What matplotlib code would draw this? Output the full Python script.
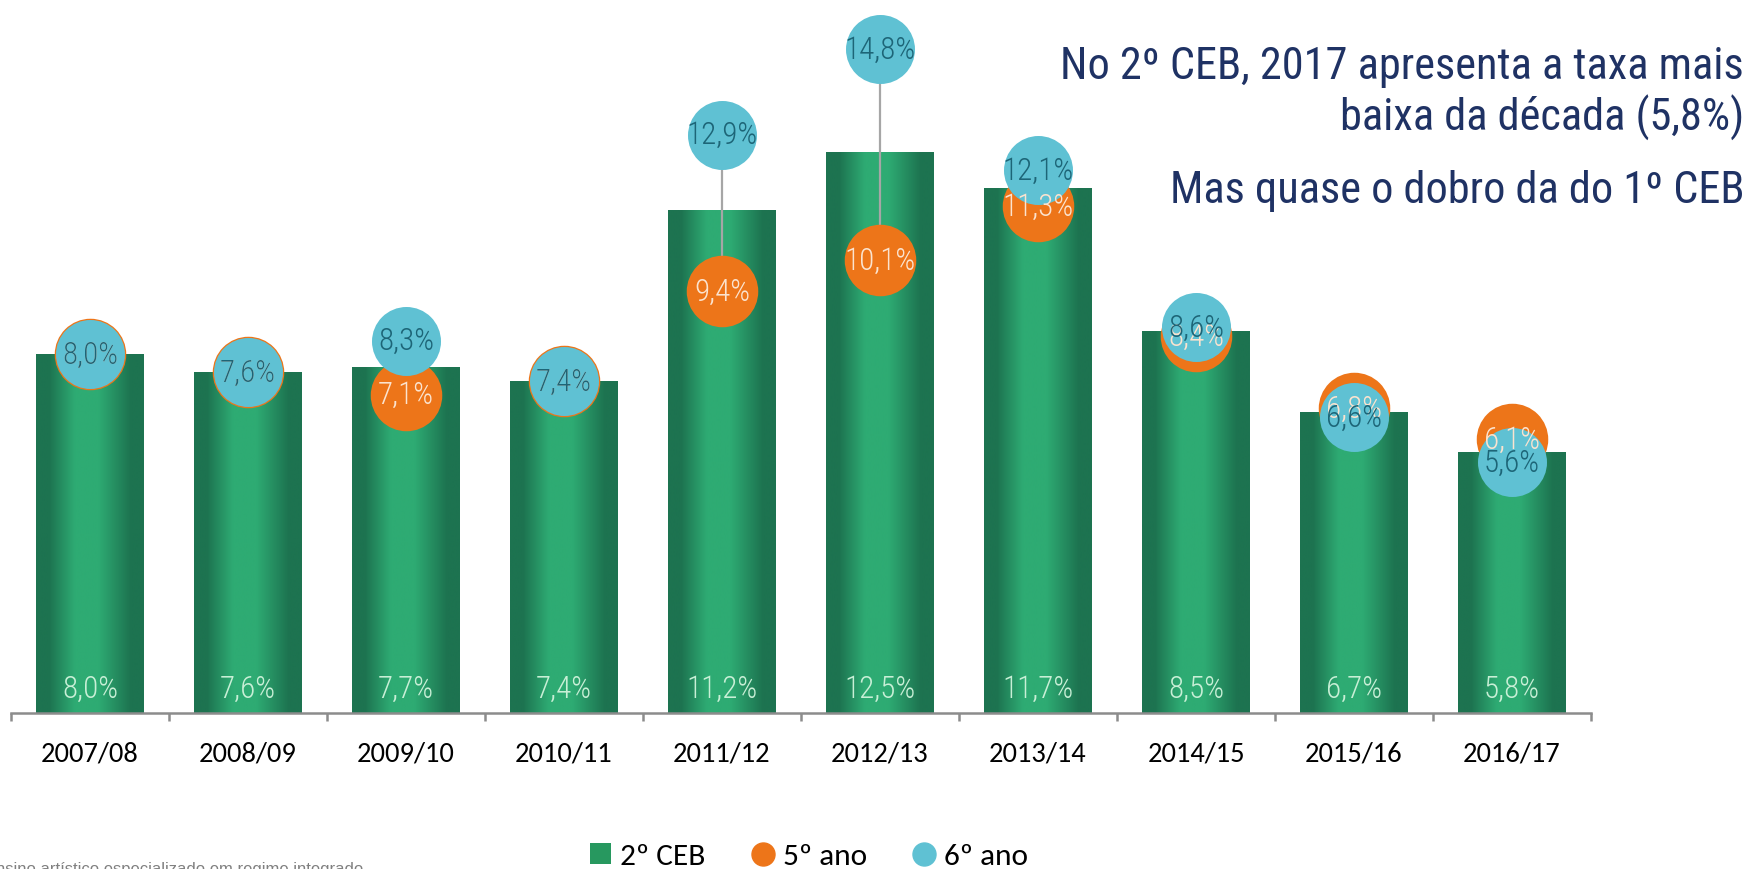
"""Taxa de retenção no 2º CEB, por ano lectivo (2º CEB, 5º ano, 6º ano)."""

import matplotlib.font_manager as fm
import matplotlib.pyplot as plt
import numpy as np
from matplotlib.colors import LinearSegmentedColormap
from matplotlib.lines import Line2D
from matplotlib.patches import Patch

CATEGORIES = ["2007/08", "2008/09", "2009/10", "2010/11", "2011/12",
              "2012/13", "2013/14", "2014/15", "2015/16", "2016/17"]
CEB2 = [8.0, 7.6, 7.7, 7.4, 11.2, 12.5, 11.7, 8.5, 6.7, 5.8]
ANO5 = [8.0, 7.6, 7.1, 7.4, 9.4, 10.1, 11.3, 8.4, 6.8, 6.1]
ANO6 = [8.0, 7.6, 8.3, 7.4, 12.9, 14.8, 12.1, 8.6, 6.6, 5.6]
SERIES_NAMES = ["2º CEB", "5º ano", "6º ano"]

TITLE_LINES = [
    "No 2º CEB, 2017 apresenta a taxa mais",
    "baixa da década (5,8%)",
    "Mas quase o dobro da do 1º CEB",
]
FOOTNOTE = "Inclui ensino artístico especializado em regime integrado"

FIG_W, FIG_H, DPI = 1747, 870, 100

GREEN_DARK = "#1d7350"
GREEN_LIGHT = "#2eab73"
ORANGE = "#ed7519"
BLUE = "#5fc1d3"
NAVY = "#1f3264"
AXIS_GRAY = "#8c8c8c"

AVAILABLE = {f.name for f in fm.fontManager.ttflist}


def pick(*names: str) -> str:
    for name in names:
        if name in AVAILABLE:
            return name
    return "DejaVu Sans"


COND = pick("Roboto Condensed", "Open Sans Condensed", "Fira Sans Condensed",
            "Barlow Semi Condensed", "Sofia Sans Semi Condensed",
            "Asap Condensed", "Liberation Sans Narrow")
BODY = pick("Carlito", "Lato", "Open Sans", "Liberation Sans")


def pct(v: float) -> str:
    return f"{v:.1f}".replace(".", ",") + "%"


def px(v: float) -> float:
    # pixels -> points
    return v * 72.0 / DPI


fig = plt.figure(figsize=(FIG_W / DPI, FIG_H / DPI), dpi=DPI)
renderer = fig.canvas.get_renderer()


def fit_size(text: str, family: str, width_px: float, weight="normal") -> float:
    """Font size that makes `text` about `width_px` pixels wide."""
    t = fig.text(0, 0, text, fontsize=10, family=family, weight=weight)
    w = t.get_window_extent(renderer=renderer).width
    t.remove()
    return 10.0 * width_px / w


LABEL_SIZE = fit_size("8,0%", COND, 56)
TITLE_SIZE = fit_size(TITLE_LINES[0], COND, 679)
TICK_SIZE = fit_size("2007/08", BODY, 98)
LEGEND_SIZE = fit_size("2º CEB", BODY, 85)

ax = fig.add_axes([11 / FIG_W, (FIG_H - 714) / FIG_H, 1580 / FIG_W, 713 / FIG_H])

x = np.arange(len(CATEGORIES))

# bars with a horizontal "cylinder" gradient
bars = ax.bar(x, CEB2, width=0.68, color="none", zorder=2)
cmap = LinearSegmentedColormap.from_list(
    "bar",
    [(0.0, GREEN_DARK), (0.12, GREEN_DARK), (0.36, GREEN_LIGHT),
     (0.58, GREEN_LIGHT), (0.88, GREEN_DARK), (1.0, GREEN_DARK)],
)
grad = np.linspace(0, 1, 256)[None, :]
for rect in bars:
    x0, y0 = rect.get_x(), rect.get_y()
    ax.imshow(grad, cmap=cmap, aspect="auto", interpolation="bilinear",
              extent=(x0, x0 + rect.get_width(), y0, y0 + rect.get_height()),
              zorder=2)

# high-low lines between the two year circles
ax.vlines(x, ANO5, ANO6, color="#a6a6a6", linewidth=px(2.2), zorder=3)

ms = px(69)
ax.plot(x, ANO5, "o", ms=ms, color=ORANGE, mec=ORANGE, mew=px(2.5), zorder=4)
ax.plot(x, ANO6, "o", ms=ms, color=BLUE, mew=0, zorder=5)

for xi, v in zip(x, CEB2):
    ax.text(xi, 0.55, pct(v), ha="center", va="center", color="#c8efd6",
            fontsize=LABEL_SIZE, family=COND, weight="light", zorder=6)
for xi, v in zip(x, ANO5):
    ax.text(xi, v, pct(v), ha="center", va="center", color="#fbe3cf",
            fontsize=LABEL_SIZE, family=COND, weight="light", zorder=6)
for xi, v in zip(x, ANO6):
    ax.text(xi, v, pct(v), ha="center", va="center", color="#1d6577",
            fontsize=LABEL_SIZE, family=COND, weight="light", zorder=7)

ax.set_xlim(-0.5, len(CATEGORIES) - 0.5)
ax.set_ylim(0, 15.9)
for side in ("top", "right", "left"):
    ax.spines[side].set_visible(False)
ax.spines["bottom"].set_color(AXIS_GRAY)
ax.spines["bottom"].set_linewidth(px(2.5))
ax.set_yticks([])
ax.set_xticks(x, CATEGORIES)
ax.set_xticks(np.arange(-0.5, len(CATEGORIES)), minor=True)
ax.tick_params(axis="x", which="major", length=0, pad=20,
               labelsize=TICK_SIZE, labelcolor="black")
ax.tick_params(axis="x", which="minor", length=px(8), width=px(2.5),
               color=AXIS_GRAY)
for lbl in ax.get_xticklabels():
    lbl.set_family(BODY)

# headline text, right aligned
baselines = [79, 131, 203]
for text, yb in zip(TITLE_LINES, baselines):
    fig.text(1744 / FIG_W, (FIG_H - yb) / FIG_H, text, ha="right",
             va="baseline", fontsize=TITLE_SIZE, color=NAVY, family=COND)

# cut-off footnote at the bottom left
fig.text(363 / FIG_W, (FIG_H - 874) / FIG_H, FOOTNOTE, ha="right",
         va="baseline", fontsize=12, color="#808080", family="Liberation Sans")

handles = [
    Patch(facecolor="#27985f", edgecolor="none"),
    Line2D([], [], marker="o", ls="", ms=px(23), color=ORANGE),
    Line2D([], [], marker="o", ls="", ms=px(23), color=BLUE),
]
fig.legend(handles, SERIES_NAMES, loc="lower center", ncol=3,
           bbox_to_anchor=(809 / FIG_W, -0.033), frameon=False,
           prop={"family": BODY, "size": LEGEND_SIZE}, handlelength=0.65,
           handleheight=0.65, handletextpad=0.3, columnspacing=1.5)

fig.savefig("out.png", dpi=DPI)
